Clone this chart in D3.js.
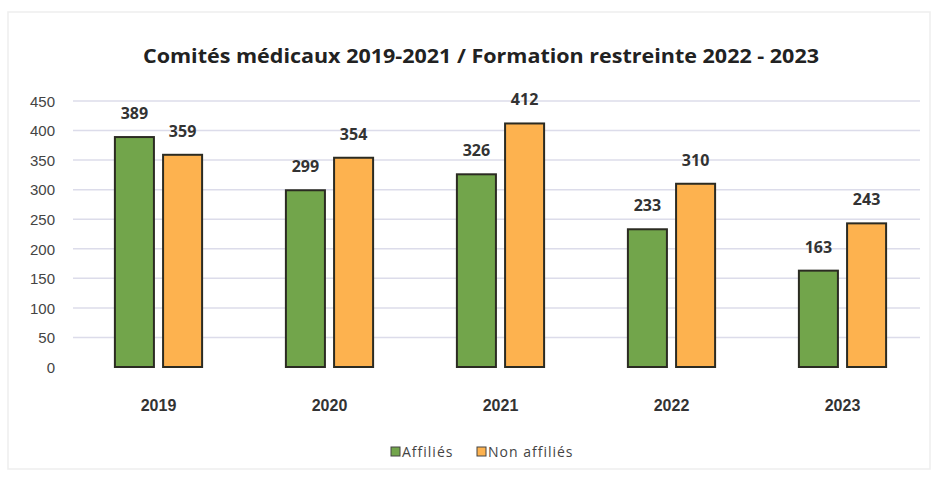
<!DOCTYPE html>
<html>
<head>
<meta charset="utf-8">
<script src="https://cdn.jsdelivr.net/npm/d3@7"></script>
<style>
  body { margin: 0; background: #fff; }
  svg { font-family: "Open Sans", "DejaVu Sans", sans-serif; }
</style>
</head>
<body>
<svg width="936" height="479"></svg>
<script>
const YEARS = ["2019", "2020", "2021", "2022", "2023"];
const SERIES = ["Affiliés", "Non affiliés"];
const AFFILIES = [389, 299, 326, 233, 163];
const NON_AFFILIES = [359, 354, 412, 310, 243];
const Y_TICKS = [0, 50, 100, 150, 200, 250, 300, 350, 400, 450];

const TITLE = "Comités médicaux 2019-2021 / Formation restreinte 2022 - 2023";
const COLORS = ["#72a54b", "#fdb24f"];

const rows = YEARS.map((yr, i) => ({ year: yr, values: [AFFILIES[i], NON_AFFILIES[i]] }));

const svg = d3.select("svg");
const W = 936, H = 479;
const plot = {left: 73, right: 928, top: 101, bottom: 367};

// faint scan frame
svg.append("rect")
  .attr("x", 8).attr("y", 12).attr("width", W - 14).attr("height", H - 22)
  .attr("fill", "none").attr("stroke", "#eeeeee").attr("stroke-width", 1.5);

const x0 = d3.scaleBand().domain(YEARS).range([plot.left, plot.right]).paddingInner(0.49).paddingOuter(0.245);
const x1 = d3.scaleBand().domain(SERIES).range([0, x0.bandwidth()]).paddingInner(0.19);
const y = d3.scaleLinear().domain([0, 450]).range([plot.bottom, plot.top]);

// gridlines
svg.append("g")
  .selectAll("line")
  .data(Y_TICKS.slice(1))
  .join("line")
  .attr("x1", plot.left).attr("x2", plot.right - 8)
  .attr("y1", d => y(d)).attr("y2", d => y(d))
  .attr("stroke", "#dcdcea").attr("stroke-width", 1.5);

// y axis labels
const yAxis = svg.append("g")
  .attr("transform", `translate(${plot.left - 18},0)`)
  .call(d3.axisLeft(y).tickValues(Y_TICKS).tickSize(0).tickPadding(0));
yAxis.select(".domain").remove();
yAxis.selectAll("text")
  .attr("font-size", 15).attr("fill", "#444").attr("dy", "0.35em");

// bars
const groups = svg.append("g")
  .selectAll("g")
  .data(rows)
  .join("g")
  .attr("transform", d => `translate(${x0(d.year)},0)`);

groups.selectAll("rect")
  .data(d => d.values.map((v, i) => ({ key: SERIES[i], value: v, idx: i })))
  .join("rect")
  .attr("x", d => x1(d.key))
  .attr("y", d => y(d.value))
  .attr("width", x1.bandwidth())
  .attr("height", d => y(0) - y(d.value))
  .attr("fill", d => COLORS[d.idx])
  .attr("stroke", "#2b2b22").attr("stroke-width", 2);

groups.selectAll("text")
  .data(d => d.values.map((v, i) => ({ key: SERIES[i], value: v })))
  .join("text")
  .attr("x", d => x1(d.key) + x1.bandwidth() / 2)
  .attr("y", d => y(d.value) - 18)
  .attr("text-anchor", "middle")
  .attr("font-size", 16).attr("font-weight", "bold").attr("fill", "#333")
  .text(d => d.value);

// x axis labels
const xAxis = svg.append("g")
  .attr("transform", `translate(0,${plot.bottom + 44})`)
  .call(d3.axisBottom(x0).tickSize(0).tickPadding(0));
xAxis.select(".domain").remove();
xAxis.selectAll("text")
  .attr("font-size", 16).attr("font-weight", "bold").attr("fill", "#333").attr("dy", 0);

// title
svg.append("text")
  .attr("x", 481).attr("y", 63)
  .attr("text-anchor", "middle")
  .attr("font-size", 20).attr("font-weight", "bold").attr("fill", "#222")
  .attr("textLength", 676).attr("lengthAdjust", "spacingAndGlyphs")
  .text(TITLE);

// legend
const legendX = [391, 477];
const legend = svg.append("g")
  .selectAll("g")
  .data(SERIES)
  .join("g")
  .attr("transform", (d, i) => `translate(${legendX[i]},452)`);
legend.append("rect")
  .attr("x", 0).attr("y", -5).attr("width", 9).attr("height", 9)
  .attr("fill", (d, i) => COLORS[i]).attr("stroke", "#444").attr("stroke-width", 1);
legend.append("text")
  .attr("x", 11).attr("y", 0).attr("dy", "0.35em")
  .attr("font-size", 14).attr("fill", "#444").attr("letter-spacing", 1)
  .text(d => d);
</script>
</body>
</html>
